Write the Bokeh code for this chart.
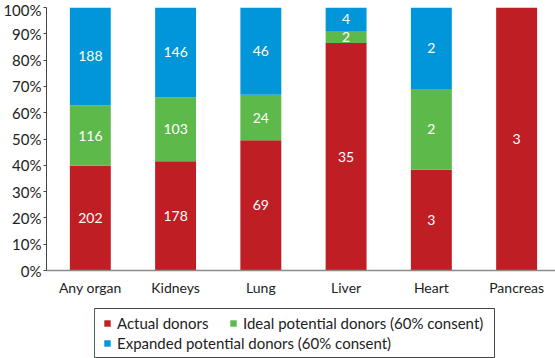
from bokeh.plotting import figure
from bokeh.layouts import column
from bokeh.models import ColumnDataSource, Range1d, Legend, LegendItem, FixedTicker
from bokeh.core.properties import value
from bokeh.embed import file_html
from bokeh.resources import INLINE

categories = ["Any organ", "Kidneys", "Lung", "Liver", "Heart", "Pancreas"]
actual_pct = [39.8, 41.5, 49.5, 86.5, 38.3, 100.0]
ideal_pct = [23.0, 24.4, 17.3, 4.6, 30.7, 0.0]
expanded_pct = [37.2, 34.1, 33.2, 8.9, 31.0, 0.0]
actual_n = ["202", "178", "69", "35", "3", "3"]
ideal_n = ["116", "103", "24", "2", "2", ""]
expanded_n = ["188", "146", "46", "4", "2", ""]
y_ticks = [0, 10, 20, 30, 40, 50, 60, 70, 80, 90, 100]

series = ["Actual donors", "Ideal potential donors (60% consent)", "Expanded potential donors (60% consent)"]
colors = ["#BF1E24", "#5DB94A", "#0096D9"]
FONT = "Lato"
TXT = "#222222"

xs = list(range(len(categories)))
src = ColumnDataSource(dict(x=xs, a=actual_pct, i=ideal_pct, e=expanded_pct))

p = figure(width=555, height=300, output_backend="svg", toolbar_location=None,
           x_range=Range1d(-0.514, 5.456), y_range=Range1d(0, 100))
p.min_border_top = 7
p.min_border_left = 44
p.min_border_right = 0
p.min_border_bottom = 30
p.outline_line_color = None
p.grid.visible = False
p.frame_align = False

rs = p.vbar_stack(["a", "i", "e"], x="x", width=0.48, source=src, color=colors, line_color=None)

# segment labels
lab_x, lab_y, lab_t = [], [], []
for k in range(len(categories)):
    base = 0.0
    for pct, lab in ((actual_pct[k], actual_n[k]), (ideal_pct[k], ideal_n[k]), (expanded_pct[k], expanded_n[k])):
        if lab:
            lab_x.append(xs[k]); lab_y.append(base + pct / 2); lab_t.append(lab)
        base += pct
lsrc = ColumnDataSource(dict(x=lab_x, y=lab_y, t=lab_t))
p.text(x="x", y="y", text="t", source=lsrc, text_color="white", text_align="center",
       text_baseline="middle", text_font=value(FONT), text_font_size="14px")

# axes
p.yaxis.ticker = FixedTicker(ticks=y_ticks)
p.yaxis.major_label_overrides = {t: f"{t}%" for t in y_ticks}
p.yaxis.minor_tick_line_color = None
p.yaxis.major_tick_in = 0
p.yaxis.major_tick_out = 3
p.yaxis.axis_line_color = "#444444"
p.yaxis.major_tick_line_color = "#444444"
p.yaxis.major_label_text_font = FONT
p.yaxis.major_label_text_font_size = "15px"
p.yaxis.major_label_text_color = TXT
p.yaxis.major_label_standoff = 2

p.xaxis.ticker = FixedTicker(ticks=xs)
p.xaxis.major_label_overrides = {x: c for x, c in zip(xs, categories)}
p.xaxis.minor_tick_line_color = None
p.xaxis.major_tick_line_color = None
p.xaxis.axis_line_color = "#8a8a8a"
p.xaxis.axis_line_width = 1.5
p.xaxis.major_label_text_font = FONT
p.xaxis.major_label_text_font_size = "14px"
p.xaxis.major_label_text_color = TXT
p.xaxis.major_label_standoff = 2

# legend panel: its frame is the legend box
q = figure(width=555, height=58, output_backend="svg", toolbar_location=None,
           x_axis_type=None, y_axis_type=None, x_range=Range1d(0, 1), y_range=Range1d(0, 1))
q.min_border_left = 94
q.min_border_right = 61
q.min_border_top = 8
q.min_border_bottom = 1
q.outline_line_color = "#444444"
q.grid.visible = False
q.frame_align = False
off = ColumnDataSource(dict(x=[-10], top=[1]))
dummies = [q.vbar(x="x", top="top", width=0.1, source=off, color=c, line_color=None) for c in colors]

def make_legend(items, loc):
    lg = Legend(items=items, orientation="vertical", location=loc)
    lg.label_text_font = FONT
    lg.label_text_font_size = "15px"
    lg.label_text_color = TXT
    lg.glyph_width = 8
    lg.glyph_height = 8
    lg.label_standoff = 6
    lg.label_height = 20
    lg.spacing = 0
    lg.padding = 0
    lg.margin = 0
    lg.border_line_color = None
    lg.background_fill_alpha = 0
    return lg

legA = make_legend([LegendItem(label=series[0], renderers=[dummies[0]]),
                    LegendItem(label=series[2], renderers=[dummies[2]])], (9, 4))
legB = make_legend([LegendItem(label=series[1], renderers=[dummies[1]])], (135, 24))
q.add_layout(legA)
q.add_layout(legB)

layout = column(p, q, spacing=0)
open("out.html", "w").write(file_html(layout, INLINE))
